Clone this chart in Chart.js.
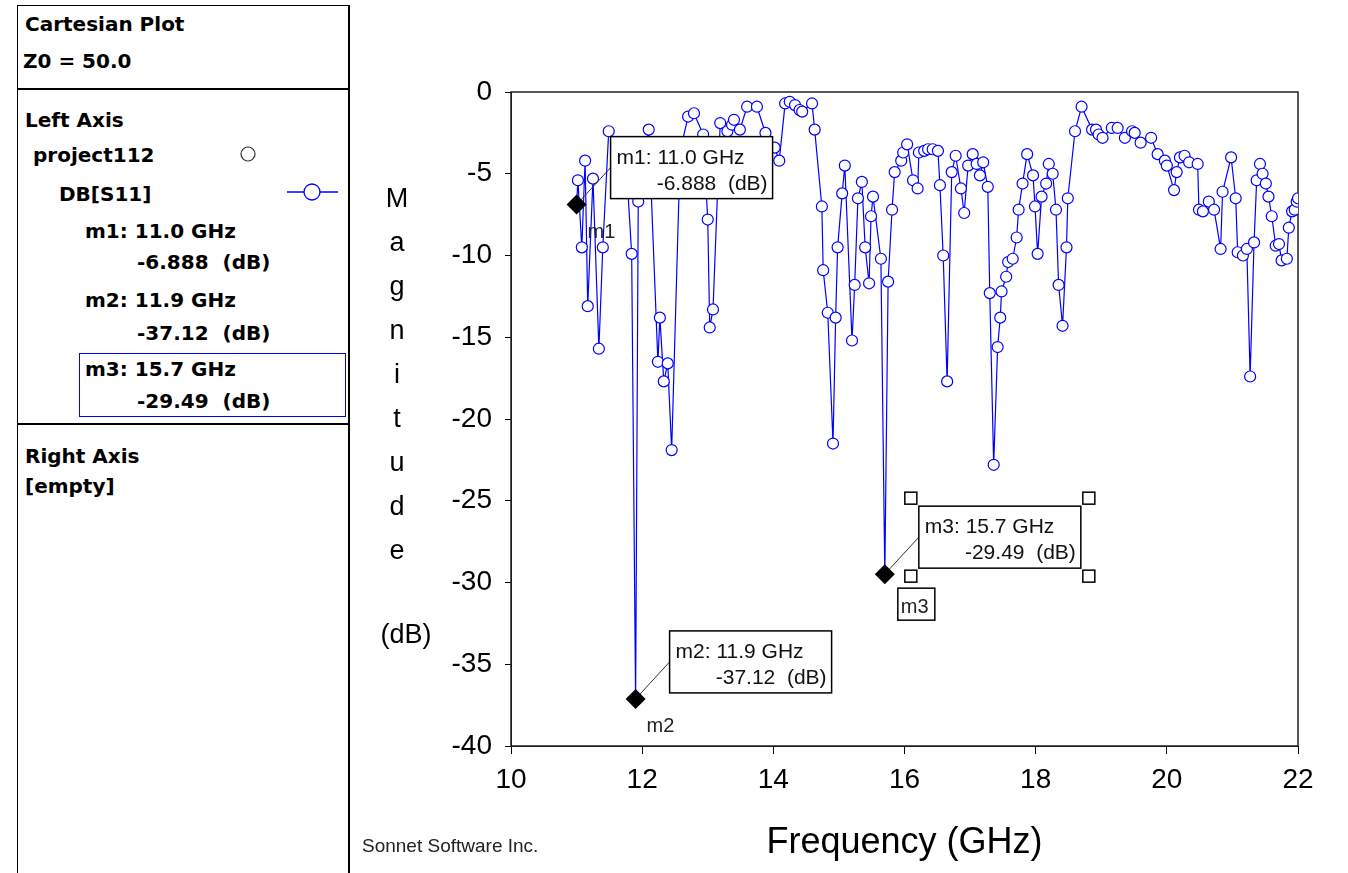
<!DOCTYPE html>
<html lang="en">
<head>
<meta charset="UTF-8">
<title>Cartesian Plot</title>
<script src="https://cdn.jsdelivr.net/npm/chart.js"></script>
<style>
    body {
        margin: 0;
        width: 1348px;
        height: 873px;
        overflow: hidden;
        background: #fff;
        position: relative;
        font-family: "DejaVu Sans", sans-serif;
        font-weight: bold;
        font-size: 20px;
        color: #000;
    }
    .t { position: absolute; line-height: 1; white-space: pre; }
    .hl { position: absolute; left: 17px; width: 331px; height: 0; border-top: 2px solid #000; }
    #frame { position: absolute; left: 17px; top: 5px; width: 330px; height: 880px; border-left: 1px solid #000; border-top: 1px solid #000; border-right: 2px solid #000; }
    #selbox { position: absolute; left: 79px; top: 353px; width: 265px; height: 62px; border: 1px solid #0000ff; }
    #chartWrap { position: absolute; left: 350px; top: 0; width: 998px; height: 873px; }
</style>
</head>
<body>
<div id="frame"></div>
<div class="hl" style="top:88px"></div>
<div class="hl" style="top:423px"></div>

<div class="t" style="left:25px;top:14px">Cartesian Plot</div>
<div class="t" style="left:23px;top:51px">Z0 = 50.0</div>
<div class="t" style="left:25px;top:110px">Left Axis</div>
<div class="t" style="left:33px;top:145px">project112</div>
<div class="t" style="left:59px;top:184px">DB[S11]</div>
<div class="t" style="left:85px;top:221px">m1: 11.0 GHz</div>
<div class="t" style="left:137px;top:252px">-6.888  (dB)</div>
<div class="t" style="left:85px;top:290px">m2: 11.9 GHz</div>
<div class="t" style="left:137px;top:323px">-37.12  (dB)</div>
<div id="selbox"></div>
<div class="t" style="left:85px;top:359px">m3: 15.7 GHz</div>
<div class="t" style="left:137px;top:391px">-29.49  (dB)</div>
<div class="t" style="left:25px;top:446px">Right Axis</div>
<div class="t" style="left:25px;top:476px">[empty]</div>

<svg style="position:absolute;left:0;top:0" width="350" height="220">
    <circle cx="248" cy="154" r="7" fill="none" stroke="#333" stroke-width="1.2"/>
    <line x1="287" y1="192" x2="338" y2="192" stroke="#0000ff" stroke-width="1.3"/>
    <circle cx="312" cy="192" r="8" fill="#fff" stroke="#0000ff" stroke-width="1.3"/>
</svg>

<div id="chartWrap"><canvas id="chart" width="998" height="873"></canvas></div>

<script>
    // DB[S11] of project112
    const freqGHz = [
        11.00, 11.02, 11.08, 11.13, 11.17, 11.25, 11.34, 11.40, 11.49, 11.62,
        11.76, 11.84, 11.90, 11.94, 12.10, 12.24, 12.27, 12.33, 12.39, 12.45,
        12.58, 12.70, 12.79, 12.93, 13.00, 13.03, 13.08, 13.19, 13.30, 13.37,
        13.40, 13.49, 13.60, 13.75, 13.88, 14.02, 14.09, 14.18, 14.25, 14.33,
        14.40, 14.44, 14.59, 14.63, 14.74, 14.76, 14.83, 14.91, 14.95, 14.98,
        15.05, 15.09, 15.20, 15.24, 15.29, 15.35, 15.40, 15.46, 15.49, 15.52,
        15.64, 15.70, 15.75, 15.81, 15.85, 15.95, 15.98, 16.04, 16.13, 16.20,
        16.22, 16.30, 16.36, 16.43, 16.51, 16.54, 16.59, 16.65, 16.72, 16.78,
        16.86, 16.91, 16.97, 17.04, 17.10, 17.15, 17.20, 17.27, 17.30, 17.36,
        17.42, 17.46, 17.48, 17.55, 17.58, 17.65, 17.71, 17.74, 17.80, 17.87,
        17.96, 17.99, 18.03, 18.09, 18.16, 18.20, 18.26, 18.31, 18.35, 18.41,
        18.47, 18.49, 18.60, 18.70, 18.86, 18.92, 18.96, 19.02, 19.16, 19.25,
        19.36, 19.47, 19.51, 19.60, 19.76, 19.86, 19.97, 20.00, 20.11, 20.15,
        20.20, 20.27, 20.34, 20.47, 20.49, 20.55, 20.64, 20.72, 20.82, 20.85,
        20.98, 21.05, 21.08, 21.16, 21.22, 21.27, 21.33, 21.37, 21.42, 21.46,
        21.51, 21.55, 21.60, 21.66, 21.71, 21.75, 21.83, 21.86, 21.91, 21.95,
        21.98, 22.00
    ];
    const s11dB = [
        -6.888, -5.4, -9.5, -4.2, -13.1, -5.3, -15.7, -9.5, -2.4, -3.2,
        -4.6, -9.9, -37.12, -6.7, -2.3, -16.5, -13.8, -17.7, -16.6, -21.9,
        -3.6, -1.5, -1.3, -2.6, -7.8, -14.4, -13.3, -1.9, -2.4, -2.0,
        -1.7, -2.3, -0.9, -0.9, -2.5, -3.4, -4.2, -0.7, -0.6, -0.8,
        -1.1, -1.2, -0.7, -2.3, -7.0, -10.9, -13.5, -21.5, -13.8, -9.5,
        -6.2, -4.5, -15.2, -11.8, -6.5, -5.5, -9.5, -11.7, -7.6, -6.4,
        -10.2, -29.49, -11.6, -7.2, -4.9, -4.2, -3.7, -3.2, -5.4, -5.9,
        -3.7, -3.6, -3.5, -3.5, -3.6, -5.7, -10.0, -17.7, -4.9, -3.9,
        -5.9, -7.4, -4.5, -3.8, -4.4, -5.1, -4.3, -5.8, -12.3, -22.8,
        -15.6, -13.8, -12.2, -11.3, -10.4, -10.2, -8.9, -7.2, -5.6, -3.8,
        -5.1, -7.0, -9.9, -6.4, -5.6, -4.4, -5.0, -7.2, -11.8, -14.3,
        -9.5, -6.5, -2.4, -0.9, -2.3, -2.3, -2.6, -2.8, -2.2, -2.2,
        -2.8, -2.4, -2.5, -3.1, -2.8, -3.8, -4.2, -4.5, -6.0, -4.9,
        -4.0, -3.9, -4.3, -4.4, -7.2, -7.3, -6.7, -7.2, -9.6, -6.1,
        -4.0, -6.5, -9.8, -10.0, -9.6, -17.4, -9.2, -5.4, -4.4, -5.0,
        -5.6, -6.4, -7.6, -9.4, -9.3, -10.3, -10.2, -8.3, -7.3, -7.2,
        -6.7, -6.5
    ];

    const markerNames = ['m1', 'm2', 'm3'];
    const markerFreq = [11.0, 11.9, 15.7];
    const markerVal = [-6.888, -37.12, -29.49];
    const selectedMarker = 'm3';

    const xTitle = 'Frequency (GHz)';
    const yTitleLetters = ['M', 'a', 'g', 'n', 'i', 't', 'u', 'd', 'e'];
    const yTitleUnit = '(dB)';
    const footer = 'Sonnet Software Inc.';

    const FONT = '"Liberation Sans", Arial, sans-serif';

    const points = freqGHz.map((f, i) => ({ x: f, y: s11dB[i] }));

    const framePlugin = {
        id: 'frame',
        beforeDatasetsDraw(chart) {
            const { ctx, chartArea: a } = chart;
            ctx.save();
            ctx.strokeStyle = '#222';
            ctx.lineWidth = 1.5;
            ctx.strokeRect(a.left, a.top, a.right - a.left, a.bottom - a.top);
            ctx.restore();
        },
        afterDraw(chart) {
            const { ctx, chartArea: a } = chart;
            ctx.save();
            ctx.fillStyle = '#000';
            ctx.font = '27px ' + FONT;
            ctx.textAlign = 'center';
            ctx.textBaseline = 'middle';
            const cx = a.left - 114;
            yTitleLetters.forEach((ch, i) => ctx.fillText(ch, cx, a.top + 108 + 44 * i));
            ctx.fillText(yTitleUnit, cx + 9, a.top + 544);
            ctx.font = '19px ' + FONT;
            ctx.textAlign = 'left';
            ctx.fillStyle = '#222';
            ctx.fillText(footer, 12, 847);
            ctx.restore();
        }
    };

    const markerPlugin = {
        id: 'markers',
        afterDatasetsDraw(chart) {
            const { ctx, scales: { x, y } } = chart;
            ctx.save();
            markerNames.forEach((name, i) => {
                const px = x.getPixelForValue(markerFreq[i]);
                const py = y.getPixelForValue(markerVal[i]);
                const bx = px + 34, by = py - 68, bw = 162, bh = 62;

                ctx.strokeStyle = '#333';
                ctx.lineWidth = 1;
                ctx.beginPath();
                ctx.moveTo(px, py);
                ctx.lineTo(bx, by + 31);
                ctx.stroke();

                ctx.fillStyle = '#fff';
                ctx.fillRect(bx, by, bw, bh);
                ctx.strokeStyle = '#000';
                ctx.lineWidth = 1.5;
                ctx.strokeRect(bx, by, bw, bh);

                ctx.fillStyle = '#111';
                ctx.font = '21px ' + FONT;
                ctx.textBaseline = 'alphabetic';
                ctx.textAlign = 'left';
                ctx.fillText(name + ': ' + markerFreq[i].toFixed(1) + ' GHz', bx + 6, by + 27);
                ctx.textAlign = 'right';
                ctx.fillText(String(markerVal[i]) + '  (dB)', bx + bw - 5, by + 53);

                ctx.fillStyle = '#000';
                ctx.beginPath();
                ctx.moveTo(px, py - 10);
                ctx.lineTo(px + 10, py);
                ctx.lineTo(px, py + 10);
                ctx.lineTo(px - 10, py);
                ctx.closePath();
                ctx.fill();

                ctx.font = '20px ' + FONT;
                ctx.textAlign = 'left';
                ctx.fillStyle = '#222';
                if (name === selectedMarker) {
                    ctx.strokeStyle = '#000';
                    ctx.lineWidth = 1.5;
                    ctx.fillStyle = '#fff';
                    ctx.fillRect(px + 13, py + 14, 37, 32);
                    ctx.strokeRect(px + 13, py + 14, 37, 32);
                    ctx.fillStyle = '#222';
                    ctx.fillText(name, px + 16, py + 39);
                    const s = 12;
                    [[bx - 14, by - 14], [bx + bw + 2, by - 14], [bx - 14, by + bh + 2], [bx + bw + 2, by + bh + 2]]
                        .forEach(([hx, hy]) => {
                            ctx.fillStyle = '#fff';
                            ctx.fillRect(hx, hy, s, s);
                            ctx.strokeRect(hx, hy, s, s);
                        });
                } else {
                    ctx.fillText(name, px + 11, py + 33);
                }
            });
            ctx.restore();
        }
    };

    new Chart(document.getElementById('chart'), {
        type: 'scatter',
        data: {
            datasets: [{
                label: 'DB[S11]',
                data: points,
                showLine: true,
                borderColor: '#0000ff',
                borderWidth: 1.2,
                pointRadius: 5.5,
                pointBorderWidth: 1.2,
                pointBackgroundColor: '#fff',
                pointBorderColor: '#0000ff',
                tension: 0
            }]
        },
        options: {
            responsive: false,
            animation: false,
            layout: { padding: { top: 92, right: 50, left: 0, bottom: 0 } },
            plugins: { legend: { display: false }, tooltip: { enabled: false } },
            scales: {
                x: {
                    type: 'linear',
                    min: 10,
                    max: 22,
                    ticks: { stepSize: 2, color: '#000', font: { size: 28, family: FONT }, padding: 9, maxRotation: 0, autoSkip: false },
                    grid: { drawOnChartArea: false, drawTicks: true, tickLength: 8, color: '#000' },
                    border: { color: '#000', width: 1 },
                    title: { display: true, text: xTitle, color: '#000', font: { size: 36, family: FONT }, padding: { top: 0, bottom: 8 } },
                    afterFit: s => { s.height = 127; }
                },
                y: {
                    min: -40,
                    max: 0,
                    ticks: { stepSize: 5, color: '#000', font: { size: 28, family: FONT }, padding: 13 },
                    grid: { drawOnChartArea: false, drawTicks: true, tickLength: 6, color: '#000' },
                    border: { color: '#000', width: 1 },
                    afterFit: s => { s.width = 161; }
                }
            }
        },
        plugins: [framePlugin, markerPlugin]
    });
</script>
</body>
</html>
